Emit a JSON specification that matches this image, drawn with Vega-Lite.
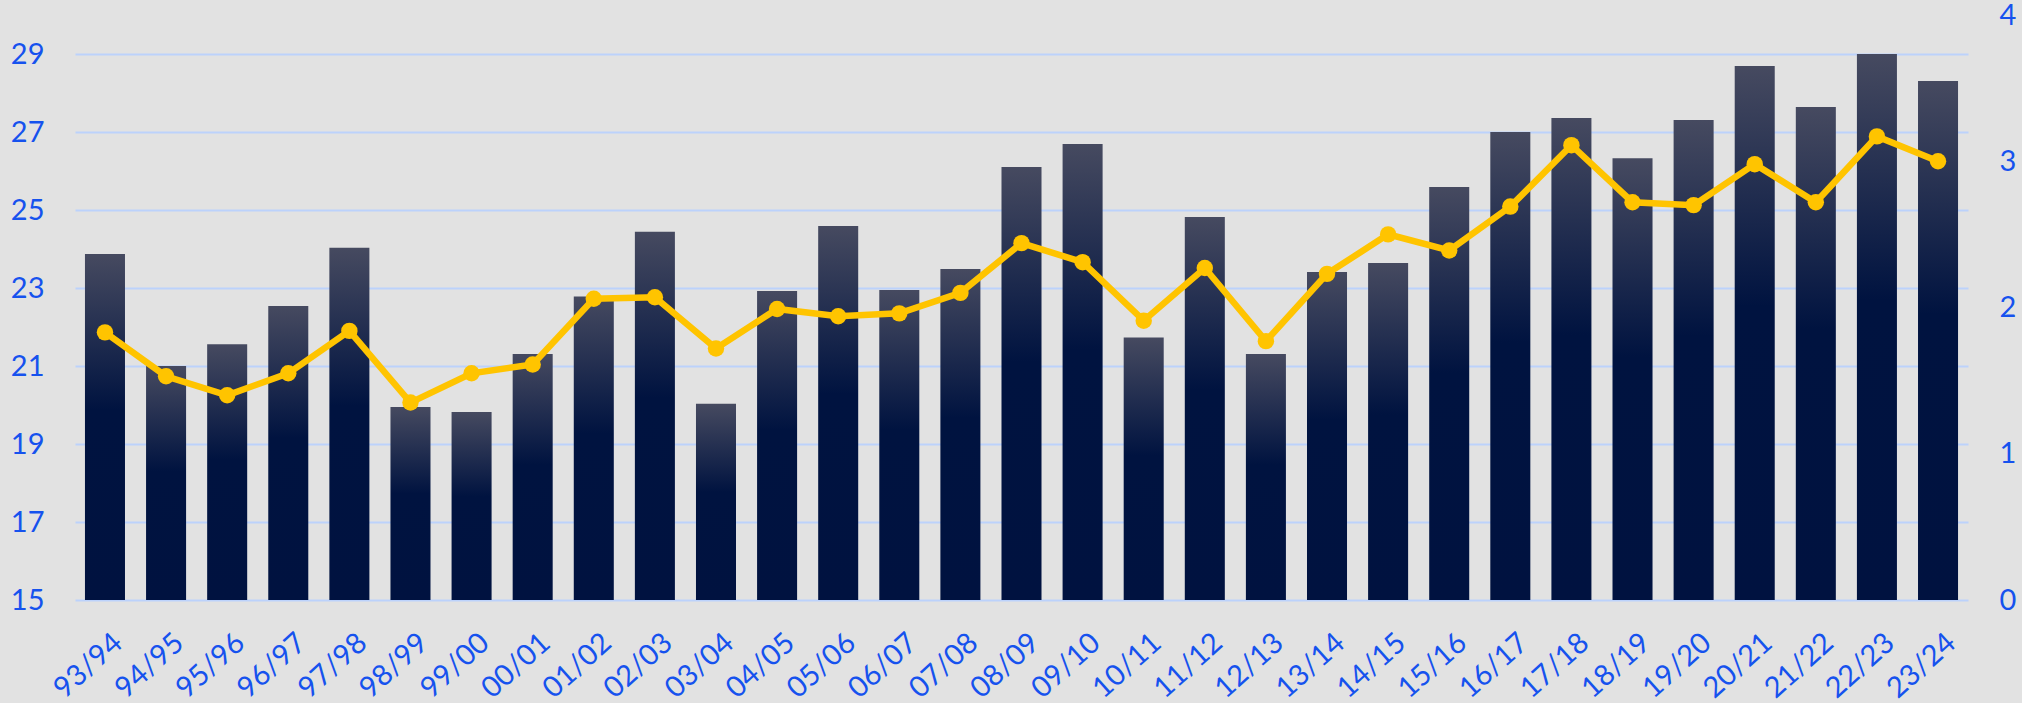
{
  "$schema": "https://vega.github.io/schema/vega-lite/v6.json",
  "autosize": {"type": "none"},
  "width": 1893,
  "height": 585,
  "padding": {"left": 75, "top": 15, "right": 54, "bottom": 103},
  "background": "#e2e2e2",
  "config": {
    "view": {"stroke": null},
    "axis": {"labelFont": "Lato", "labelColor": "#1652ee", "labelFontSize": 29, "domain": false, "ticks": false}
  },
  "data": {"values": [
    {"season": "93/94", "bar": 23.87, "line": 1.83},
    {"season": "94/95", "bar": 21.0, "line": 1.53},
    {"season": "95/96", "bar": 21.56, "line": 1.40},
    {"season": "96/97", "bar": 22.54, "line": 1.55},
    {"season": "97/98", "bar": 24.03, "line": 1.84},
    {"season": "98/99", "bar": 19.95, "line": 1.35},
    {"season": "99/00", "bar": 19.82, "line": 1.55},
    {"season": "00/01", "bar": 21.31, "line": 1.61},
    {"season": "01/02", "bar": 22.78, "line": 2.06},
    {"season": "02/03", "bar": 24.44, "line": 2.07},
    {"season": "03/04", "bar": 20.03, "line": 1.72},
    {"season": "04/05", "bar": 22.92, "line": 1.99},
    {"season": "05/06", "bar": 24.59, "line": 1.94},
    {"season": "06/07", "bar": 22.95, "line": 1.96},
    {"season": "07/08", "bar": 23.49, "line": 2.10},
    {"season": "08/09", "bar": 26.10, "line": 2.44},
    {"season": "09/10", "bar": 26.69, "line": 2.31},
    {"season": "10/11", "bar": 21.73, "line": 1.91},
    {"season": "11/12", "bar": 24.82, "line": 2.27},
    {"season": "12/13", "bar": 21.31, "line": 1.77},
    {"season": "13/14", "bar": 23.41, "line": 2.23},
    {"season": "14/15", "bar": 23.64, "line": 2.50},
    {"season": "15/16", "bar": 25.59, "line": 2.39},
    {"season": "16/17", "bar": 27.0, "line": 2.69},
    {"season": "17/18", "bar": 27.36, "line": 3.11},
    {"season": "18/19", "bar": 26.33, "line": 2.72},
    {"season": "19/20", "bar": 27.31, "line": 2.70},
    {"season": "20/21", "bar": 28.69, "line": 2.98},
    {"season": "21/22", "bar": 27.64, "line": 2.72},
    {"season": "22/23", "bar": 29.0, "line": 3.17},
    {"season": "23/24", "bar": 28.31, "line": 3.00}
  ]},
  "encoding": {
    "x": {"field": "season", "type": "nominal", "sort": null,
      "scale": {"paddingInner": 0.345, "paddingOuter": 0.163},
      "axis": {"title": null, "labelAngle": -42, "labelPadding": 28, "labelOffset": 4, "grid": false}}
  },
  "layer": [
    {
      "mark": {"type": "bar", "fill": {"gradient": "linear", "x1": 0, "y1": 0, "x2": 0, "y2": 1,
        "stops": [{"offset": 0, "color": "#464a60"}, {"offset": 0.45, "color": "#001340"}, {"offset": 1, "color": "#001240"}]}},
      "encoding": {
        "y": {"field": "bar", "type": "quantitative",
          "scale": {"domain": [15, 30], "zero": false, "nice": false},
          "axis": {"title": null, "values": [15, 17, 19, 21, 23, 25, 27, 29], "labelPadding": 31, "labelFlush": false, "grid": true, "gridColor": "#bcd2fb", "gridWidth": 2}},
        "y2": {"datum": 15}
      }
    },
    {
      "layer": [
        {"mark": {"type": "line", "color": "#ffc400", "strokeWidth": 6.5}, "encoding": {}},
        {"mark": {"type": "point", "filled": true, "color": "#ffc400", "size": 270, "opacity": 1}, "encoding": {}}
      ],
      "encoding": {
        "y": {"field": "line", "type": "quantitative",
          "scale": {"domain": [0, 4], "nice": false},
          "axis": {"title": null, "orient": "right", "values": [0, 1, 2, 3, 4], "labelPadding": 31, "labelFlush": false, "grid": false}}
      }
    }
  ],
  "resolve": {"scale": {"y": "independent"}}
}
